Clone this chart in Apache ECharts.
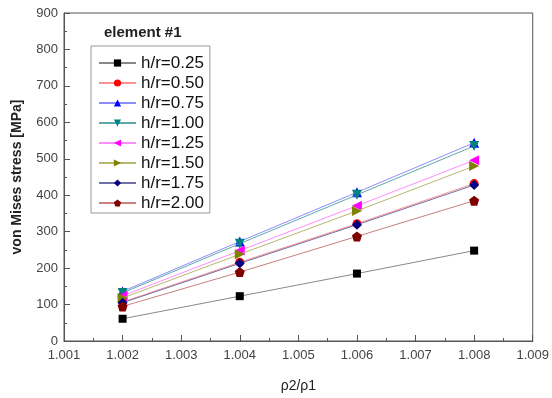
<!DOCTYPE html>
<html><head><meta charset="utf-8">
<script src="https://cdn.jsdelivr.net/npm/echarts@6/dist/echarts.min.js"></script>
<style>html,body{margin:0;padding:0;background:#fff}#c{width:552px;height:398px}</style>
</head><body><div id="c"></div>
<script>
const xValues = [1.002, 1.004, 1.006, 1.008];
const seriesNames = ['h/r=0.25','h/r=0.50','h/r=0.75','h/r=1.00','h/r=1.25','h/r=1.50','h/r=1.75','h/r=2.00'];
const hr025 = [61, 123, 185, 248];
const hr050 = [107, 216, 322, 432];
const hr075 = [136, 273, 408, 544];
const hr100 = [132, 267, 401, 535];
const hr125 = [124, 248, 371, 496];
const hr150 = [118, 238, 357, 480];
const hr175 = [105, 213, 319, 428];
const hr200 = [95, 189, 287, 385];
const allValues = [hr025, hr050, hr075, hr100, hr125, hr150, hr175, hr200];
const legendTitle = 'element #1';
const xLabel = 'ρ2/ρ1';
const yLabel = 'von Mises stress [MPa]';

const symbolColors = ['#000000','#ff0000','#0000ff','#008080','#ff00ff','#808000','#000080','#800000'];
const lineColors = ['#888888','#ff9090','#8c8cff','#60a8a8','#ff8cff','#b8b870','#7070a8','#c88080'];
const symbols = [
  'rect','circle','triangle',
  'path://M0,0 L10,0 L5,9 Z',
  'path://M0,5 L9,0 L9,10 Z',
  'path://M0,0 L9,5 L0,10 Z',
  'diamond',
  'path://M5,0 L10,3.8 L8.1,10 L1.9,10 L0,3.8 Z'
];
const sizes = [8, 9, 10, 10, 10, 10, 10, 10];

const chart = echarts.init(document.getElementById('c'), null, {renderer:'canvas'});
const font = 'Liberation Sans, Arial, sans-serif';
const series = seriesNames.map((n, i) => ({
  name: n, type: 'line',
  data: xValues.map((x, j) => [x, allValues[i][j]]),
  symbol: symbols[i], symbolSize: sizes[i],
  itemStyle: {color: symbolColors[i]},
  lineStyle: {color: lineColors[i], width: 1},
  z: 2 + i * 0.01
}));
chart.setOption({
  animation: false,
  backgroundColor: '#fff',
  grid: {left: 64, right: 16, top: 13, bottom: 55, show: true, borderColor: '#555', borderWidth: 1},
  title: {text: legendTitle, left: 104, top: 25, padding: 0, textStyle: {fontFamily: font, fontSize: 15, fontWeight: 'bold', color: '#222'}},
  legend: {
    orient: 'vertical', left: 91, top: 46, itemGap: 0, itemWidth: 37, itemHeight: 9,
    padding: [7, 6, 0, 7],
    borderColor: '#999', borderWidth: 1, backgroundColor: '#fff',
    textStyle: {fontFamily: font, fontSize: 17, lineHeight: 20, color: '#111'},
    data: seriesNames
  },
  xAxis: {
    type: 'value', min: 1.001, max: 1.009, interval: 0.001,
    name: xLabel, nameLocation: 'middle', nameGap: 38,
    nameTextStyle: {fontFamily: font, fontSize: 14, color: '#222'},
    axisLine: {show: true, lineStyle: {color: '#555'}},
    axisTick: {show: true, inside: true, length: 6, lineStyle: {color: '#555'}},
    minorTick: {show: true, splitNumber: 2, length: 3, lineStyle: {color: '#555'}},
    splitLine: {show: false},
    axisLabel: {fontFamily: font, fontSize: 13, color: '#444', margin: 8, formatter: v => v.toFixed(3)}
  },
  yAxis: {
    type: 'value', min: 0, max: 900, interval: 100,
    name: yLabel, nameLocation: 'middle', nameGap: 40,
    nameTextStyle: {fontFamily: font, fontSize: 14, fontWeight: 'bold', color: '#222'},
    axisLine: {show: true, lineStyle: {color: '#555'}},
    axisTick: {show: true, inside: true, length: 6, lineStyle: {color: '#555'}},
    minorTick: {show: true, splitNumber: 2, length: 3, lineStyle: {color: '#555'}},
    splitLine: {show: false},
    axisLabel: {fontFamily: font, fontSize: 13, color: '#444', margin: 6}
  },
  series: series
});
</script></body></html>
